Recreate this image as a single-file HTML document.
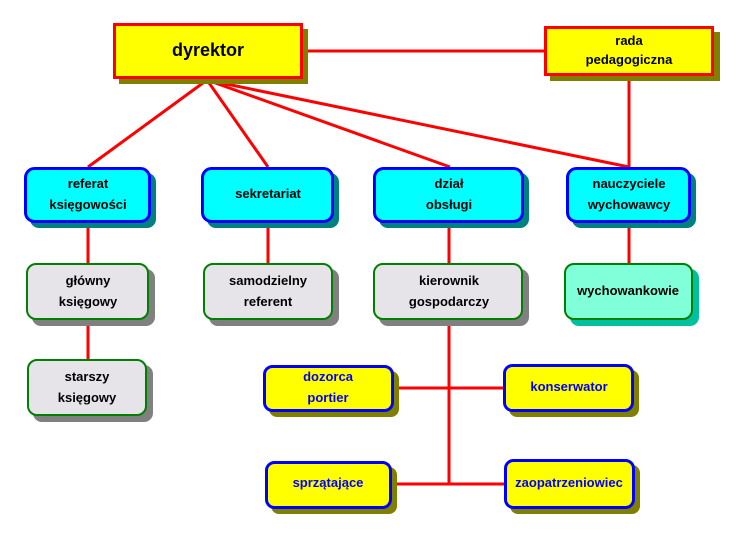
<!DOCTYPE html><html><head><style>body{margin:0;background:#fff}svg text{font-family:"Liberation Sans",sans-serif;font-weight:bold;text-anchor:middle}</style></head><body>
<svg width="740" height="535" xmlns="http://www.w3.org/2000/svg">
<g stroke="#ff0000" stroke-width="3" fill="none">
<line x1="302" y1="51" x2="544" y2="51"/><line x1="629" y1="75" x2="629" y2="167"/>
<line x1="207" y1="80" x2="88" y2="167"/><line x1="207" y1="80" x2="268" y2="167"/>
<line x1="207" y1="80" x2="450" y2="167"/><line x1="207" y1="80" x2="629" y2="167"/>
<line x1="88" y1="222" x2="88" y2="359"/><line x1="268" y1="222" x2="268" y2="263"/>
<line x1="449" y1="222" x2="449" y2="263"/><line x1="629" y1="222" x2="629" y2="263"/>
<line x1="449" y1="320" x2="449" y2="484"/><line x1="393" y1="388" x2="503" y2="388"/><line x1="391" y1="484" x2="504" y2="484"/>
</g>
<rect x="119" y="29" width="189" height="55" fill="#808000"/>
<rect x="114.5" y="24.5" width="187" height="53" fill="#ffff00" stroke="#ff0000" stroke-width="3"/>
<text x="208" y="56" font-size="18" fill="#000">dyrektor</text>
<rect x="550" y="32" width="170" height="49" fill="#808000"/>
<rect x="545.5" y="27.5" width="167" height="47" fill="#ffff00" stroke="#ff0000" stroke-width="3"/>
<text x="629" y="45" font-size="13">rada</text><text x="629" y="64" font-size="13">pedagogiczna</text>
<g font-size="13">
<!-- cyan -->
<g><rect x="30" y="173" width="126" height="55" rx="9" fill="#008080"/><rect x="25.5" y="168.5" width="124" height="53" rx="9" fill="#00ffff" stroke="#0000ff" stroke-width="3"/><text x="88" y="188">referat</text><text x="88" y="209">księgowości</text></g>
<g><rect x="207" y="173" width="132" height="55" rx="9" fill="#008080"/><rect x="202.5" y="168.5" width="130" height="53" rx="9" fill="#00ffff" stroke="#0000ff" stroke-width="3"/><text x="268" y="198">sekretariat</text></g>
<g><rect x="379" y="173" width="150" height="55" rx="9" fill="#008080"/><rect x="374.5" y="168.5" width="148" height="53" rx="9" fill="#00ffff" stroke="#0000ff" stroke-width="3"/><text x="449" y="188">dział</text><text x="449" y="209">obsługi</text></g>
<g><rect x="572" y="173" width="124" height="55" rx="9" fill="#008080"/><rect x="567.5" y="168.5" width="122" height="53" rx="9" fill="#00ffff" stroke="#0000ff" stroke-width="3"/><text x="629" y="188">nauczyciele</text><text x="629" y="209">wychowawcy</text></g>
<!-- gray -->
<g><rect x="32" y="269" width="123" height="57" rx="9" fill="#808080"/><rect x="27" y="264" width="121" height="55" rx="9" fill="#e6e4e8" stroke="#008000" stroke-width="2"/><text x="88" y="285">główny</text><text x="88" y="306">księgowy</text></g>
<g><rect x="209" y="269" width="130" height="57" rx="9" fill="#808080"/><rect x="204" y="264" width="128" height="55" rx="9" fill="#e6e4e8" stroke="#008000" stroke-width="2"/><text x="268" y="285">samodzielny</text><text x="268" y="306">referent</text></g>
<g><rect x="379" y="269" width="150" height="57" rx="9" fill="#808080"/><rect x="374" y="264" width="148" height="55" rx="9" fill="#e6e4e8" stroke="#008000" stroke-width="2"/><text x="449" y="285">kierownik</text><text x="449" y="306">gospodarczy</text></g>
<g><rect x="570" y="269" width="129" height="57" rx="9" fill="#00c0a0"/><rect x="565" y="264" width="127" height="55" rx="9" fill="#80ffd8" stroke="#008000" stroke-width="2"/><text x="628" y="295">wychowankowie</text></g>
<g><rect x="33" y="365" width="120" height="57" rx="9" fill="#808080"/><rect x="28" y="360" width="118" height="55" rx="9" fill="#e6e4e8" stroke="#008000" stroke-width="2"/><text x="87" y="381">starszy</text><text x="87" y="402">księgowy</text></g>
<!-- yellow -->
<g fill="#0000ff">
<rect x="269" y="371" width="130" height="46" rx="8" fill="#808000"/><rect x="264.5" y="366.5" width="128" height="44" rx="8" fill="#ffff00" stroke="#0000ff" stroke-width="3"/><text x="328" y="381">dozorca</text><text x="328" y="402">portier</text>
<rect x="509" y="370" width="130" height="47" rx="8" fill="#808000"/><rect x="504.5" y="365.5" width="128" height="45" rx="8" fill="#ffff00" stroke="#0000ff" stroke-width="3"/><text x="569" y="391">konserwator</text>
<rect x="271" y="467" width="126" height="47" rx="8" fill="#808000"/><rect x="266.5" y="462.5" width="124" height="45" rx="8" fill="#ffff00" stroke="#0000ff" stroke-width="3"/><text x="328" y="487">sprzątające</text>
<rect x="510" y="465" width="130" height="49" rx="8" fill="#808000"/><rect x="505.5" y="460.5" width="128" height="47" rx="8" fill="#ffff00" stroke="#0000ff" stroke-width="3"/><text x="569" y="487">zaopatrzeniowiec</text>
</g>
</g>
</svg></body></html>
